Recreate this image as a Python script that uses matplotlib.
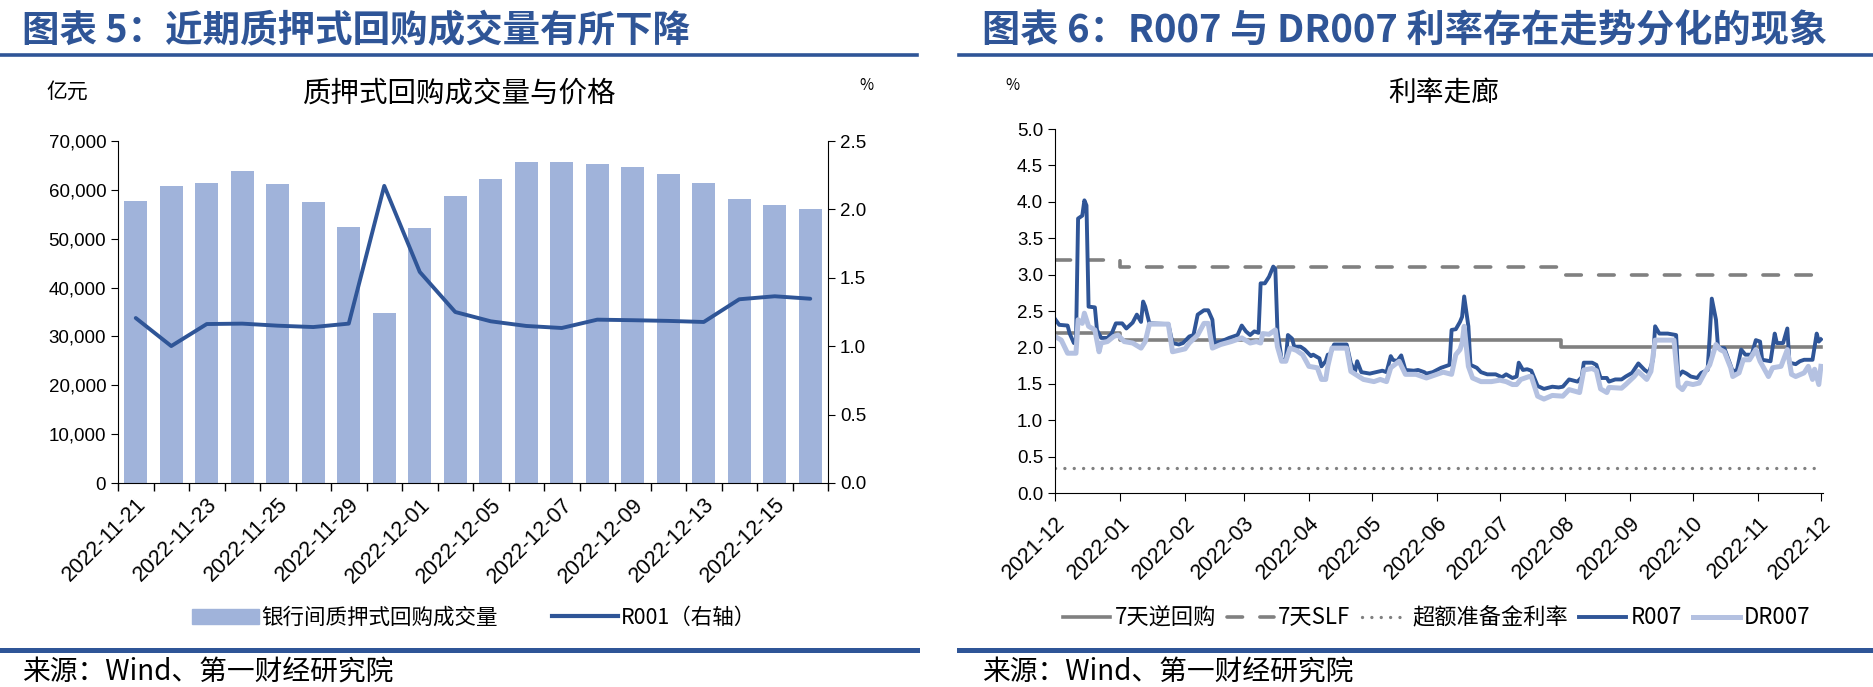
import pandas as pd
import numpy as np
import matplotlib.pyplot as plt
from matplotlib.lines import Line2D
from matplotlib.patches import Patch
from matplotlib.ticker import FuncFormatter

plt.rcParams['font.family'] = ['Noto Sans CJK SC', 'DejaVu Sans']
narrow = ['Liberation Sans Narrow', 'Liberation Sans', 'Noto Sans CJK SC']
regular = ['Liberation Sans', 'Noto Sans CJK SC']

#Colores
BLUE = '#2F5597'
BAR = '#A0B3DA'
LIGHT = '#B4C1E1'
GRAY = '#808080'

#Datos grafico 5
fechas5 = ['2022-11-21', '2022-11-22', '2022-11-23', '2022-11-24', '2022-11-25',
           '2022-11-28', '2022-11-29', '2022-11-30', '2022-12-01', '2022-12-02',
           '2022-12-05', '2022-12-06', '2022-12-07', '2022-12-08', '2022-12-09',
           '2022-12-12', '2022-12-13', '2022-12-14', '2022-12-15', '2022-12-16']
volumen = [57800, 60700, 61500, 63900, 61100, 57600, 52300, 34800, 52100, 58800,
           62200, 65700, 65700, 65300, 64600, 63200, 61500, 58100, 56800, 56000]
r001 = [1.206, 1.001, 1.162, 1.165, 1.150, 1.140, 1.165, 2.172, 1.543, 1.250,
        1.182, 1.148, 1.133, 1.194, 1.190, 1.185, 1.177, 1.343, 1.365, 1.347]

#Datos grafico 6
r007_fechas = ['2021-12-17', '2021-12-19', '2021-12-23', '2021-12-24', '2021-12-26', '2021-12-27',
               '2021-12-28', '2021-12-30', '2021-12-31', '2022-01-01', '2022-01-02', '2022-01-05',
               '2022-01-06', '2022-01-08', '2022-01-11', '2022-01-13', '2022-01-15', '2022-01-18',
               '2022-01-20', '2022-01-23', '2022-01-25', '2022-01-27', '2022-01-28', '2022-01-29',
               '2022-01-31', '2022-02-01', '2022-02-09', '2022-02-11', '2022-02-14', '2022-02-16',
               '2022-02-19', '2022-02-21', '2022-02-23', '2022-02-26', '2022-02-28', '2022-03-02',
               '2022-03-03', '2022-03-06', '2022-03-10', '2022-03-14', '2022-03-16', '2022-03-18',
               '2022-03-20', '2022-03-22', '2022-03-24', '2022-03-25', '2022-03-27', '2022-03-29',
               '2022-03-31', '2022-04-01', '2022-04-02', '2022-04-04', '2022-04-06', '2022-04-07',
               '2022-04-09', '2022-04-10', '2022-04-13', '2022-04-15', '2022-04-18', '2022-04-19',
               '2022-04-22', '2022-04-23', '2022-04-25', '2022-04-26', '2022-04-27', '2022-04-29',
               '2022-05-05', '2022-05-07', '2022-05-09', '2022-05-10', '2022-05-12', '2022-05-16',
               '2022-05-19', '2022-05-22', '2022-05-24', '2022-05-26', '2022-05-27', '2022-05-29',
               '2022-05-31', '2022-06-02', '2022-06-06', '2022-06-08', '2022-06-11', '2022-06-12',
               '2022-06-15', '2022-06-19', '2022-06-21', '2022-06-23', '2022-06-24', '2022-06-26',
               '2022-06-28', '2022-06-29', '2022-06-30', '2022-07-02', '2022-07-03', '2022-07-06',
               '2022-07-08', '2022-07-11', '2022-07-15', '2022-07-18', '2022-07-20', '2022-07-23',
               '2022-07-25', '2022-07-26', '2022-07-28', '2022-07-30', '2022-08-01', '2022-08-04',
               '2022-08-07', '2022-08-11', '2022-08-14', '2022-08-16', '2022-08-19', '2022-08-23',
               '2022-08-25', '2022-08-26', '2022-08-30', '2022-09-01', '2022-09-03', '2022-09-06',
               '2022-09-07', '2022-09-10', '2022-09-13', '2022-09-15', '2022-09-18', '2022-09-21',
               '2022-09-24', '2022-09-26', '2022-09-28', '2022-09-29', '2022-10-01', '2022-10-05',
               '2022-10-09', '2022-10-10', '2022-10-12', '2022-10-14', '2022-10-16', '2022-10-19',
               '2022-10-21', '2022-10-24', '2022-10-25', '2022-10-26', '2022-10-28', '2022-10-29',
               '2022-11-01', '2022-11-03', '2022-11-05', '2022-11-07', '2022-11-09', '2022-11-11',
               '2022-11-14', '2022-11-16', '2022-11-18', '2022-11-19', '2022-11-23', '2022-11-25',
               '2022-11-26', '2022-11-29', '2022-12-01', '2022-12-02', '2022-12-05', '2022-12-07',
               '2022-12-09', '2022-12-13', '2022-12-15', '2022-12-16', '2022-12-17']
r007 = [2.39, 2.31, 2.30, 2.19, 2.06, 2.06, 3.77, 3.81, 4.02, 3.95, 2.56, 2.55,
        2.24, 2.13, 2.13, 2.19, 2.33, 2.33, 2.26, 2.34, 2.45, 2.35, 2.63, 2.56,
        2.33, 2.33, 2.32, 2.06, 2.04, 2.06, 2.15, 2.17, 2.45, 2.51, 2.51, 2.38,
        2.06, 2.08, 2.13, 2.17, 2.30, 2.22, 2.17, 2.22, 2.20, 2.88, 2.88, 2.97,
        3.11, 3.08, 2.24, 1.83, 1.83, 2.17, 2.12, 2.01, 2.01, 1.97, 1.88, 1.90,
        1.85, 1.74, 1.81, 1.90, 1.90, 2.04, 2.04, 1.78, 1.67, 1.81, 1.66, 1.64,
        1.66, 1.68, 1.66, 1.88, 1.83, 1.81, 1.89, 1.69, 1.68, 1.69, 1.66, 1.64,
        1.66, 1.72, 1.74, 1.76, 2.24, 2.25, 2.35, 2.42, 2.70, 2.29, 1.76, 1.72,
        1.66, 1.63, 1.63, 1.59, 1.63, 1.58, 1.60, 1.79, 1.69, 1.70, 1.68, 1.47,
        1.43, 1.46, 1.45, 1.46, 1.56, 1.53, 1.59, 1.79, 1.79, 1.76, 1.58, 1.58,
        1.53, 1.56, 1.56, 1.60, 1.65, 1.78, 1.69, 1.65, 1.83, 2.29, 2.19, 2.19,
        2.17, 1.60, 1.67, 1.64, 1.60, 1.58, 1.65, 1.69, 2.15, 2.67, 2.38, 1.99,
        1.99, 1.83, 1.67, 1.69, 1.97, 1.90, 1.90, 2.10, 2.08, 1.83, 1.81, 2.19,
        2.06, 2.06, 2.26, 1.79, 1.77, 1.81, 1.83, 1.83, 2.19, 2.08, 2.11]

dr007_fechas = ['2021-12-17', '2021-12-20', '2021-12-23', '2021-12-27', '2021-12-28', '2021-12-30',
                '2021-12-31', '2022-01-02', '2022-01-05', '2022-01-07', '2022-01-08', '2022-01-11',
                '2022-01-14', '2022-01-16', '2022-01-19', '2022-01-23', '2022-01-27', '2022-01-29',
                '2022-01-31', '2022-02-09', '2022-02-11', '2022-02-17', '2022-02-19', '2022-02-23',
                '2022-02-26', '2022-02-28', '2022-03-02', '2022-03-06', '2022-03-11', '2022-03-16',
                '2022-03-20', '2022-03-23', '2022-03-25', '2022-03-26', '2022-03-29', '2022-04-01',
                '2022-04-02', '2022-04-04', '2022-04-06', '2022-04-08', '2022-04-11', '2022-04-14',
                '2022-04-17', '2022-04-21', '2022-04-23', '2022-04-25', '2022-04-26', '2022-04-28',
                '2022-05-05', '2022-05-07', '2022-05-13', '2022-05-18', '2022-05-21', '2022-05-24',
                '2022-05-26', '2022-05-30', '2022-06-02', '2022-06-07', '2022-06-12', '2022-06-17',
                '2022-06-20', '2022-06-24', '2022-06-26', '2022-06-28', '2022-06-29', '2022-06-30',
                '2022-07-02', '2022-07-04', '2022-07-08', '2022-07-13', '2022-07-17', '2022-07-20',
                '2022-07-23', '2022-07-25', '2022-07-27', '2022-07-31', '2022-08-01', '2022-08-04',
                '2022-08-07', '2022-08-11', '2022-08-16', '2022-08-19', '2022-08-24', '2022-08-26',
                '2022-08-30', '2022-09-01', '2022-09-03', '2022-09-06', '2022-09-07', '2022-09-13',
                '2022-09-15', '2022-09-19', '2022-09-21', '2022-09-25', '2022-09-27', '2022-09-29',
                '2022-10-01', '2022-10-08', '2022-10-10', '2022-10-12', '2022-10-14', '2022-10-17',
                '2022-10-20', '2022-10-23', '2022-10-25', '2022-10-28', '2022-10-30', '2022-11-01',
                '2022-11-04', '2022-11-05', '2022-11-08', '2022-11-10', '2022-11-13', '2022-11-16',
                '2022-11-18', '2022-11-22', '2022-11-24', '2022-11-28', '2022-12-01', '2022-12-03',
                '2022-12-05', '2022-12-09', '2022-12-11', '2022-12-13', '2022-12-14', '2022-12-16',
                '2022-12-17']
dr007 = [2.15, 2.10, 1.92, 1.92, 2.38, 2.33, 2.47, 2.29, 2.24, 1.94, 2.06, 2.08,
         2.15, 2.17, 2.08, 2.06, 1.99, 2.08, 2.32, 2.32, 1.94, 1.98, 2.06, 2.17,
         2.33, 2.33, 1.99, 2.04, 2.08, 2.13, 2.06, 2.08, 2.06, 2.19, 2.18, 2.24,
         2.01, 1.81, 1.81, 1.99, 1.96, 1.90, 1.74, 1.72, 1.56, 1.56, 1.74, 1.99,
         1.99, 1.67, 1.56, 1.53, 1.56, 1.53, 1.72, 1.81, 1.63, 1.63, 1.58, 1.63,
         1.66, 1.63, 1.90, 1.97, 2.06, 2.29, 1.74, 1.58, 1.53, 1.53, 1.55, 1.53,
         1.49, 1.49, 1.56, 1.60, 1.60, 1.33, 1.29, 1.34, 1.33, 1.42, 1.38, 1.69,
         1.71, 1.68, 1.43, 1.38, 1.45, 1.44, 1.49, 1.60, 1.67, 1.56, 1.67, 2.10,
         2.10, 2.10, 1.47, 1.42, 1.51, 1.49, 1.51, 1.67, 1.76, 2.04, 1.97, 1.94,
         1.72, 1.60, 1.65, 1.83, 1.83, 1.97, 1.81, 1.60, 1.72, 1.74, 1.97, 1.63,
         1.60, 1.65, 1.74, 1.56, 1.70, 1.49, 1.74]

#Tasas de politica (cambios de nivel)
politica_fechas = ['2021-12-17', '2022-01-17', '2022-08-15', '2022-12-17']
repo_7d = [2.2, 2.1, 2.0, 2.0]
slf_7d = [3.2, 3.1, 3.0, 3.0]
exceso_reserva = [0.35, 0.35, 0.35, 0.35]

W, H = 1873, 687
fig = plt.figure(figsize=(W / 100, H / 100), dpi=100)

def fx(px):
    return px / W

def fy(py):
    return 1 - py / H

#Encabezados y reglas
fig.text(fx(22), fy(31), '图表 5：近期质押式回购成交量有所下降', fontsize=27,
         fontweight='bold', color=BLUE, va='center')
fig.text(fx(982), fy(31), '图表 6：R007 与 DR007 利率存在走势分化的现象', fontsize=27.5,
         fontweight='bold', color=BLUE, va='center')
for x0, x1 in [(0, 917), (959, W)]:
    fig.add_artist(Line2D([fx(x0), fx(x1)], [fy(55)] * 2, color=BLUE, lw=2.6))
    fig.add_artist(Line2D([fx(x0), fx(x1)], [fy(650)] * 2, color=BLUE, lw=3.6))
fig.text(fx(22), fy(672), '来源：Wind、第一财经研究院', fontsize=20, va='center')
fig.text(fx(982), fy(672), '来源：Wind、第一财经研究院', fontsize=20, va='center')

#Grafico 5
ax1 = fig.add_axes([fx(118), fy(483), fx(828) - fx(118), fy(141) - fy(483)])
x = np.arange(len(fechas5))
ax1.bar(x, volumen, width=0.66, color=BAR, zorder=2)
ax1.set_xlim(-0.5, len(fechas5) - 0.5)
ax1.set_ylim(0, 70000)
ax1.set_yticks(np.arange(0, 70001, 10000))
ax1.yaxis.set_major_formatter(FuncFormatter(lambda v, p: f'{v:,.0f}'))
ax1.set_xticks(np.arange(-0.5, len(fechas5), 1))
ax1.set_xticklabels([])
ax1.set_xticks(x[::2], minor=True)
ax1.set_xticklabels(fechas5[::2], minor=True, rotation=45, ha='right',
                    rotation_mode='anchor', fontsize=15.5)
ax1.tick_params(axis='x', which='major', direction='out', length=6, width=1)
ax1.tick_params(axis='x', which='minor', length=0, pad=8)
ax1.tick_params(axis='y', direction='out', length=5, labelsize=13.5)
for lbl in ax1.get_xticklabels(minor=True):
    lbl.set_family(regular)
for lbl in ax1.get_yticklabels():
    lbl.set_family(narrow)
for s in ['top', 'right']:
    ax1.spines[s].set_visible(False)

ax2 = ax1.twinx()
ax2.plot(x, r001, color=BLUE, lw=2.8, solid_capstyle='round', zorder=3)
ax2.set_ylim(0, 2.5)
ax2.set_yticks(np.arange(0, 2.51, 0.5))
ax2.yaxis.set_major_formatter(FuncFormatter(lambda v, p: f'{v:.1f}'))
ax2.tick_params(axis='y', direction='out', length=5, labelsize=13.5)
for lbl in ax2.get_yticklabels():
    lbl.set_family(regular)
for s in ['top', 'left', 'bottom']:
    ax2.spines[s].set_visible(False)

fig.text(fx(460), fy(94), '质押式回购成交量与价格', fontsize=20.5, ha='center', va='center')
fig.text(fx(67), fy(92), '亿元', fontsize=15, ha='center', va='center')
fig.text(fx(866), fy(86), '%', fontsize=11, ha='center', va='center')

h5 = [Patch(color=BAR), Line2D([], [], color=BLUE, lw=3)]
fig.legend(h5, ['银行间质押式回购成交量', 'R001（右轴）'], loc='center',
           bbox_to_anchor=(fx(474), fy(618)), ncol=2, frameon=False, fontsize=15.5,
           columnspacing=2.5, handlelength=3.1, handletextpad=0.1)

#Grafico 6
ax3 = fig.add_axes([fx(1055), fy(493), fx(1823) - fx(1055), fy(129) - fy(493)])
pf = pd.to_datetime(politica_fechas)
ax3.plot(pf, repo_7d, drawstyle='steps-post', color=GRAY, lw=2.6, label='7天逆回购')
ax3.plot(pf, slf_7d, drawstyle='steps-post', color=GRAY, lw=2.6,
         linestyle=(0, (4.3, 4.8)), dash_capstyle='round', label='7天SLF')
ax3.plot(pf, exceso_reserva, drawstyle='steps-post', color=GRAY, lw=2.4,
         linestyle=(0, (0.01, 2.8)), dash_capstyle='round', label='超额准备金利率')
ax3.plot(pd.to_datetime(r007_fechas), r007, color=BLUE, lw=2.8, label='R007')
ax3.plot(pd.to_datetime(dr007_fechas), dr007, color=LIGHT, lw=3.6, label='DR007')

ax3.set_ylim(0, 5)
ax3.set_yticks(np.arange(0, 5.01, 0.5))
ax3.yaxis.set_major_formatter(FuncFormatter(lambda v, p: f'{v:.1f}'))
inicio = pd.Timestamp('2021-12-17')
ticks6 = [inicio + pd.DateOffset(months=i) for i in range(13)]
ax3.set_xlim(inicio, pd.Timestamp('2022-12-18'))
ax3.set_xticks(ticks6)
ax3.set_xticklabels([t.strftime('%Y-%m') for t in ticks6], rotation=45, ha='right',
                    rotation_mode='anchor', fontsize=15.5)
ax3.tick_params(axis='x', direction='out', length=6, pad=8)
ax3.tick_params(axis='y', direction='out', length=5, labelsize=13.5)
for lbl in ax3.get_xticklabels() + ax3.get_yticklabels():
    lbl.set_family(regular)
for s in ['top', 'right']:
    ax3.spines[s].set_visible(False)

fig.text(fx(1444), fy(94), '利率走廊', fontsize=20, ha='center', va='center')
fig.text(fx(1012), fy(86), '%', fontsize=11, ha='center', va='center')

fig.legend(*ax3.get_legend_handles_labels(), loc='center',
           bbox_to_anchor=(fx(1437), fy(618)), ncol=5, frameon=False, fontsize=16,
           columnspacing=0.5, handlelength=2.1, handletextpad=0.2)

fig.savefig('out.png', dpi=100)
